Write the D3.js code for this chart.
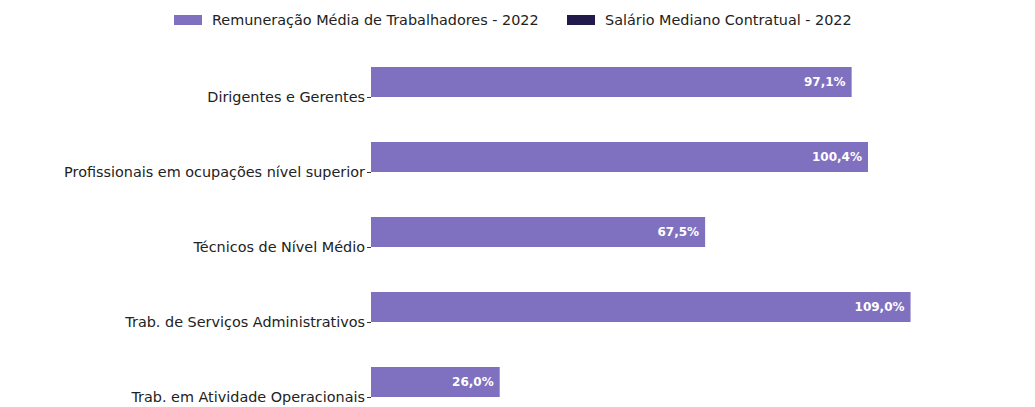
<!DOCTYPE html>
<html>
<head>
<meta charset="utf-8">
<script src="https://cdn.jsdelivr.net/npm/d3@7"></script>
<style>
  body { margin: 0; background: #fff; }
  svg { display: block; font-family: "DejaVu Sans", sans-serif; }
</style>
</head>
<body>
<svg width="1035" height="407"></svg>
<script>
"use strict";

// categories and series
const categories = [
  "Dirigentes e Gerentes",
  "Profissionais em ocupações nível superior",
  "Técnicos de Nível Médio",
  "Trab. de Serviços Administrativos",
  "Trab. em Atividade Operacionais"
];
const seriesNames = ["Remuneração Média de Trabalhadores - 2022", "Salário Mediano Contratual - 2022"];
const remuneracao = [97.1, 100.4, 67.5, 109.0, 26.0];
const salarioMediano = [null, null, null, null, null]; // not shown in the picture
const colors = ["#7f70c0", "#231a4c"];

const svg = d3.select("svg");
const marginLeft = 371;

// x: percent -> pixels (about 4.95 px per unit)
const x = d3.scaleLinear().domain([0, 100]).range([marginLeft, marginLeft + 495]);

// each category gets a band; bars sit above and below the tick
const y = d3.scalePoint().domain(categories).range([97, 397]);
const barH = 30;

const rows = categories.map((c, i) => ({ cat: c, values: [remuneracao[i], salarioMediano[i]] }));

// bars
const g = svg.append("g");
rows.forEach(row => {
  row.values.forEach((v, s) => {
    if (v == null) return;
    const yTop = s === 0 ? y(row.cat) - barH : y(row.cat);
    g.append("rect")
      .attr("x", x(0))
      .attr("y", yTop)
      .attr("width", x(v) - x(0))
      .attr("height", barH)
      .attr("fill", colors[s]);
    g.append("text")
      .attr("x", x(v) - 6)
      .attr("y", yTop + barH / 2)
      .attr("dy", "0.35em")
      .attr("text-anchor", "end")
      .attr("fill", "#fff")
      .attr("font-size", 12)
      .attr("font-weight", "bold")
      .text(v.toFixed(1).replace(".", ",") + "%");
  });
});

// y axis: ticks and labels only
const yAxis = svg.append("g")
  .attr("transform", `translate(${marginLeft},0)`)
  .call(d3.axisLeft(y).tickSize(4).tickPadding(2));
yAxis.select(".domain").remove();
yAxis.selectAll(".tick line").attr("stroke", "#333");
yAxis.selectAll("text")
  .attr("font-family", "DejaVu Sans, sans-serif")
  .attr("font-size", 14.4)
  .attr("fill", "#222");

// legend
const legend = svg.append("g").attr("transform", "translate(0,20)");
const legendX = [174, 567];
seriesNames.forEach((name, i) => {
  legend.append("rect")
    .attr("x", legendX[i]).attr("y", -5)
    .attr("width", 28).attr("height", 10)
    .attr("fill", colors[i]);
  legend.append("text")
    .attr("x", legendX[i] + 38).attr("y", 0)
    .attr("dy", "0.35em")
    .attr("font-size", 14.4)
    .attr("fill", "#222")
    .text(name);
});
</script>
</body>
</html>
